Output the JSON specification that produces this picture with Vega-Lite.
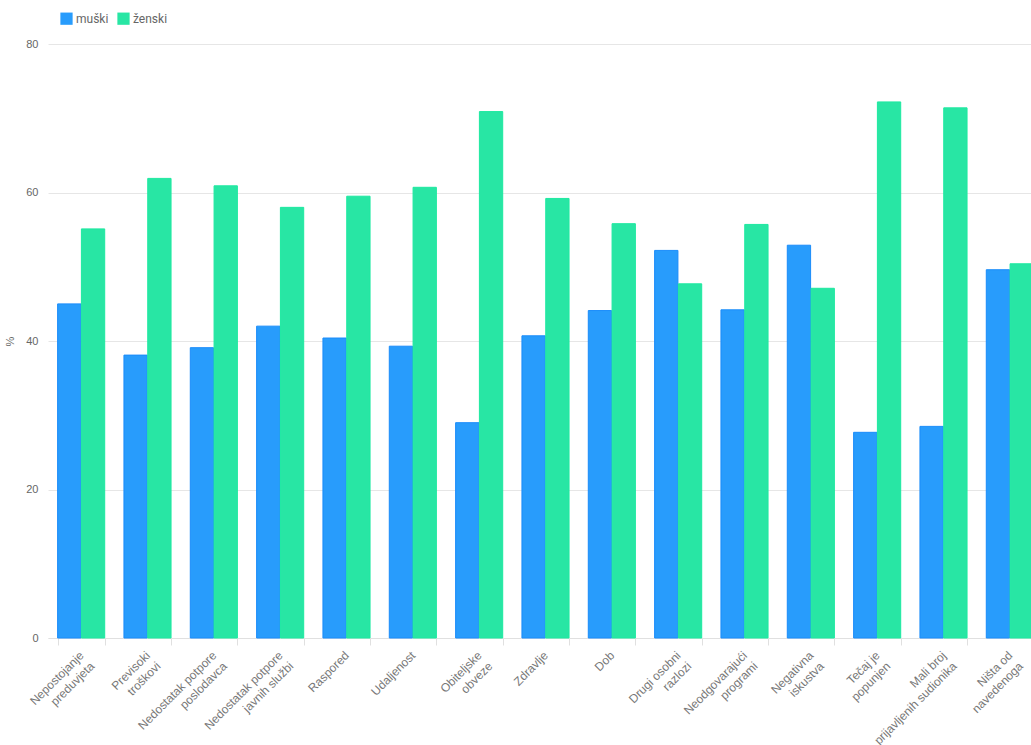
{
  "$schema": "https://vega.github.io/schema/vega-lite/v6.json",
  "autosize": {"type": "none"},
  "padding": {"left": 48, "top": 44, "right": 0, "bottom": 107},
  "width": 983,
  "height": 594,
  "background": "white",
  "config": {
    "view": {"stroke": null},
    "font": "Roboto",
    "axis": {"labelFont": "Liberation Sans", "titleFont": "Liberation Sans"},
    "legend": {"labelFont": "Roboto"}
  },
  "data": {
    "values": [
      {"kategorija": "Nepostojanje\npreduvjeta", "spol": "muški", "postotak": 45.0},
      {"kategorija": "Nepostojanje\npreduvjeta", "spol": "ženski", "postotak": 55.1},
      {"kategorija": "Previsoki\ntroškovi", "spol": "muški", "postotak": 38.1},
      {"kategorija": "Previsoki\ntroškovi", "spol": "ženski", "postotak": 61.9},
      {"kategorija": "Nedostatak potpore\nposlodavca", "spol": "muški", "postotak": 39.1},
      {"kategorija": "Nedostatak potpore\nposlodavca", "spol": "ženski", "postotak": 60.9},
      {"kategorija": "Nedostatak potpore\njavnih službi", "spol": "muški", "postotak": 42.0},
      {"kategorija": "Nedostatak potpore\njavnih službi", "spol": "ženski", "postotak": 58.0},
      {"kategorija": "Raspored", "spol": "muški", "postotak": 40.4},
      {"kategorija": "Raspored", "spol": "ženski", "postotak": 59.5},
      {"kategorija": "Udaljenost", "spol": "muški", "postotak": 39.3},
      {"kategorija": "Udaljenost", "spol": "ženski", "postotak": 60.7},
      {"kategorija": "Obiteljske\nobveze", "spol": "muški", "postotak": 29.0},
      {"kategorija": "Obiteljske\nobveze", "spol": "ženski", "postotak": 70.9},
      {"kategorija": "Zdravlje", "spol": "muški", "postotak": 40.7},
      {"kategorija": "Zdravlje", "spol": "ženski", "postotak": 59.2},
      {"kategorija": "Dob", "spol": "muški", "postotak": 44.1},
      {"kategorija": "Dob", "spol": "ženski", "postotak": 55.8},
      {"kategorija": "Drugi osobni\nrazlozi", "spol": "muški", "postotak": 52.2},
      {"kategorija": "Drugi osobni\nrazlozi", "spol": "ženski", "postotak": 47.7},
      {"kategorija": "Neodgovarajući\nprogrami", "spol": "muški", "postotak": 44.2},
      {"kategorija": "Neodgovarajući\nprogrami", "spol": "ženski", "postotak": 55.7},
      {"kategorija": "Negativna\niskustva", "spol": "muški", "postotak": 52.9},
      {"kategorija": "Negativna\niskustva", "spol": "ženski", "postotak": 47.1},
      {"kategorija": "Tečaj je\npopunjen", "spol": "muški", "postotak": 27.7},
      {"kategorija": "Tečaj je\npopunjen", "spol": "ženski", "postotak": 72.2},
      {"kategorija": "Mali broj\nprijavljenih sudionika", "spol": "muški", "postotak": 28.5},
      {"kategorija": "Mali broj\nprijavljenih sudionika", "spol": "ženski", "postotak": 71.4},
      {"kategorija": "Ništa od\nnavedenoga", "spol": "muški", "postotak": 49.6},
      {"kategorija": "Ništa od\nnavedenoga", "spol": "ženski", "postotak": 50.4}
    ]
  },
  "mark": {"type": "bar", "strokeWidth": 1, "fillOpacity": 1},
  "encoding": {
    "x": {
      "field": "kategorija",
      "type": "nominal",
      "sort": null,
      "scale": {"range": [0, 995], "paddingInner": 0.29, "paddingOuter": 0.145},
      "axis": {
        "title": null,
        "labelAngle": -45,
        "labelAlign": "right",
        "labelBaseline": "middle",
        "labelExpr": "split(datum.label, '\\n')",
        "labelFontSize": 12,
        "labelColor": "#777777",
        "labelPadding": 8,
        "labelLineHeight": 15,
        "tickBand": "extent",
        "tickColor": "#e0e0e0",
        "tickSize": 7,
        "domainColor": "#e0e0e0",
        "domainWidth": 1,
        "grid": false
      }
    },
    "xOffset": {"field": "spol", "type": "nominal", "scale": {"paddingInner": 0.02}},
    "y": {
      "field": "postotak",
      "type": "quantitative",
      "scale": {"domain": [0, 80]},
      "axis": {
        "title": "%",
        "titleFontSize": 11,
        "titleFontWeight": "normal",
        "titleColor": "#666666",
        "titlePadding": 10,
        "values": [0, 20, 40, 60, 80],
        "labelFontSize": 11,
        "labelColor": "#666666",
        "labelPadding": 10,
        "ticks": false,
        "domain": false,
        "gridColor": "#e6e6e6",
        "gridWidth": 1
      }
    },
    "color": {
      "field": "spol",
      "type": "nominal",
      "scale": {"domain": ["muški", "ženski"], "range": ["#289cfc", "#28e6a4"]},
      "legend": {
        "title": null,
        "orient": "none",
        "legendX": 12,
        "legendY": -32,
        "direction": "horizontal",
        "symbolType": "square",
        "symbolSize": 150,
        "symbolStrokeWidth": 0,
        "symbolOpacity": 1,
        "labelFontSize": 12,
        "labelColor": "#666666",
        "labelOffset": 3,
        "columnPadding": 8
      }
    },
    "stroke": {
      "field": "spol",
      "type": "nominal",
      "scale": {"domain": ["muški", "ženski"], "range": ["#1a8cfa", "#1de9a0"]},
      "legend": null
    }
  }
}
